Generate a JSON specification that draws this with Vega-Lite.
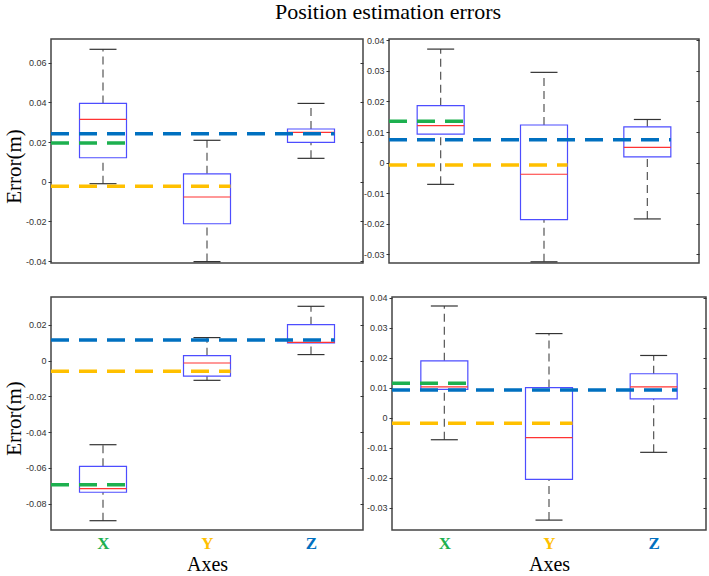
{
  "$schema": "https://vega.github.io/schema/vega-lite/v6.json",
  "padding": {"left": 2, "top": 1, "right": 2, "bottom": 0},
  "background": "white",
  "title": {"text": "Position estimation errors", "font": "Liberation Serif", "fontSize": 22, "fontWeight": "normal", "color": "#000000", "anchor": "middle", "dx": 33, "offset": 11},
  "datasets": {
    "stats": [
      {"panel": "TL", "axis": "X", "pos": 1, "min": -0.001, "q1": 0.0121, "median": 0.0315, "q3": 0.0395, "max": 0.0668, "mean": 0.0195},
      {"panel": "TL", "axis": "Y", "pos": 2, "min": -0.0403, "q1": -0.0212, "median": -0.0077, "q3": 0.004, "max": 0.0209, "mean": -0.0023},
      {"panel": "TL", "axis": "Z", "pos": 3, "min": 0.0118, "q1": 0.0199, "median": 0.0249, "q3": 0.0266, "max": 0.0395, "mean": 0.0242},
      {"panel": "TR", "axis": "X", "pos": 1, "min": -0.0071, "q1": 0.0093, "median": 0.0121, "q3": 0.0186, "max": 0.0371, "mean": 0.0135},
      {"panel": "TR", "axis": "Y", "pos": 2, "min": -0.0324, "q1": -0.0186, "median": -0.0038, "q3": 0.0123, "max": 0.0295, "mean": -0.0008},
      {"panel": "TR", "axis": "Z", "pos": 3, "min": -0.0184, "q1": 0.0019, "median": 0.005, "q3": 0.0117, "max": 0.0141, "mean": 0.0075},
      {"panel": "BL", "axis": "X", "pos": 1, "min": -0.0895, "q1": -0.0736, "median": -0.0716, "q3": -0.0591, "max": -0.047, "mean": -0.0694},
      {"panel": "BL", "axis": "Y", "pos": 2, "min": -0.011, "q1": -0.0087, "median": -0.0013, "q3": 0.0028, "max": 0.0129, "mean": -0.0059},
      {"panel": "BL", "axis": "Z", "pos": 3, "min": 0.0034, "q1": 0.01, "median": 0.0102, "q3": 0.0201, "max": 0.0304, "mean": 0.0116},
      {"panel": "BR", "axis": "X", "pos": 1, "min": -0.0074, "q1": 0.0094, "median": 0.0102, "q3": 0.0189, "max": 0.0372, "mean": 0.0114},
      {"panel": "BR", "axis": "Y", "pos": 2, "min": -0.0342, "q1": -0.0206, "median": -0.0067, "q3": 0.01, "max": 0.028, "mean": -0.0019},
      {"panel": "BR", "axis": "Z", "pos": 3, "min": -0.0116, "q1": 0.0062, "median": 0.0102, "q3": 0.0146, "max": 0.0207, "mean": 0.0092}
    ]
  },
  "vconcat": [
    {
      "align": "none",
      "spacing": -3,
      "resolve": {"scale": {"strokeDash": "independent"}},
      "hconcat": [
        {
          "width": 312, "height": 224,
          "data": {"name": "stats"},
          "transform": [{"filter": "datum.panel == 'TL'"}],
          "layer": [
            {"mark": {"type": "rule", "color": "#555555", "strokeWidth": 1.2, "strokeDash": [8, 5]},
             "encoding": {
               "x": {"field": "pos", "type": "quantitative", "scale": {"domain": [0.5, 3.5], "nice": false, "zero": false}, "axis": null},
               "y": {"field": "q3", "type": "quantitative", "scale": {"domain": [-0.041, 0.072], "nice": false, "zero": false},
                     "axis": {"orient": "left", "values": [-0.04, -0.02, 0, 0.02, 0.04, 0.06], "labelExpr": "replace(format(datum.value, '.2~f'), '−', '-')", "tickSize": 3, "grid": false, "domain": false, "title": "Error(m)", "titlePadding": 1, "titleY": 127}},
               "y2": {"field": "max"}}},
            {"mark": {"type": "rule", "color": "#555555", "strokeWidth": 1.2, "strokeDash": [8, 5]},
             "encoding": {
               "x": {"field": "pos", "type": "quantitative", "axis": null},
               "y": {"field": "min", "type": "quantitative", "axis": {"orient": "right", "values": [-0.04, -0.02, 0, 0.02, 0.04, 0.06], "labels": false, "tickSize": -3, "grid": false, "domain": false, "title": null}},
               "y2": {"field": "q1"}}},
            {"mark": {"type": "rule", "color": "#333333", "strokeWidth": 1.2, "xOffset": -13.5, "x2Offset": 13.5},
             "encoding": {"x": {"field": "pos", "type": "quantitative", "axis": null}, "x2": {"field": "pos"}, "y": {"field": "max", "type": "quantitative", "axis": null}}},
            {"mark": {"type": "rule", "color": "#333333", "strokeWidth": 1.2, "xOffset": -13.5, "x2Offset": 13.5},
             "encoding": {"x": {"field": "pos", "type": "quantitative", "axis": null}, "x2": {"field": "pos"}, "y": {"field": "min", "type": "quantitative", "axis": null}}},
            {"mark": {"type": "rect", "fill": "transparent", "stroke": "#4d4dff", "strokeWidth": 1.2, "xOffset": -23.5, "x2Offset": 23.5},
             "encoding": {"x": {"field": "pos", "type": "quantitative", "axis": null}, "x2": {"field": "pos"}, "y": {"field": "q1", "type": "quantitative", "axis": null}, "y2": {"field": "q3"}}},
            {"mark": {"type": "rule", "color": "#ff3333", "strokeWidth": 1.2, "xOffset": -23.5, "x2Offset": 23.5},
             "encoding": {"x": {"field": "pos", "type": "quantitative", "axis": null}, "x2": {"field": "pos"}, "y": {"field": "median", "type": "quantitative", "axis": null}}},
            {"mark": {"type": "rule", "strokeWidth": 3.5, "xOffset": 23.5},
             "encoding": {"x": {"field": "pos", "type": "quantitative", "axis": null}, "x2": {"datum": 0.5}, "y": {"field": "mean", "type": "quantitative", "axis": null},
               "color": {"field": "axis", "type": "nominal", "scale": {"domain": ["X", "Y", "Z"], "range": ["#1db04f", "#ffc000", "#0070c0"]}, "legend": null},
               "strokeDash": {"field": "axis", "type": "nominal", "scale": {"domain": ["X", "Y", "Z"], "range": [[0, 1.5, 18, 8.5], [11.5, 10, 6.5, 0], [3.5, 10, 14.5, 0]]}, "legend": null}}}
          ],
          "resolve": {"axis": {"y": "independent"}}
        },
        {
          "width": 310, "height": 224,
          "data": {"name": "stats"},
          "transform": [{"filter": "datum.panel == 'TR'"}],
          "layer": [
            {"mark": {"type": "rule", "color": "#555555", "strokeWidth": 1.2, "strokeDash": [8, 5]},
             "encoding": {
               "x": {"field": "pos", "type": "quantitative", "scale": {"domain": [0.5, 3.5], "nice": false, "zero": false}, "axis": null},
               "y": {"field": "q3", "type": "quantitative", "scale": {"domain": [-0.0328, 0.0404], "nice": false, "zero": false},
                     "axis": {"orient": "left", "values": [-0.03, -0.02, -0.01, 0, 0.01, 0.02, 0.03, 0.04], "labelExpr": "replace(format(datum.value, '.2~f'), '−', '-')", "tickSize": 3, "grid": false, "domain": false, "title": null}},
               "y2": {"field": "max"}}},
            {"mark": {"type": "rule", "color": "#555555", "strokeWidth": 1.2, "strokeDash": [8, 5]},
             "encoding": {
               "x": {"field": "pos", "type": "quantitative", "axis": null},
               "y": {"field": "min", "type": "quantitative", "axis": {"orient": "right", "values": [-0.03, -0.02, -0.01, 0, 0.01, 0.02, 0.03, 0.04], "labels": false, "tickSize": -3, "grid": false, "domain": false, "title": null}},
               "y2": {"field": "q1"}}},
            {"mark": {"type": "rule", "color": "#333333", "strokeWidth": 1.2, "xOffset": -13.5, "x2Offset": 13.5},
             "encoding": {"x": {"field": "pos", "type": "quantitative", "axis": null}, "x2": {"field": "pos"}, "y": {"field": "max", "type": "quantitative", "axis": null}}},
            {"mark": {"type": "rule", "color": "#333333", "strokeWidth": 1.2, "xOffset": -13.5, "x2Offset": 13.5},
             "encoding": {"x": {"field": "pos", "type": "quantitative", "axis": null}, "x2": {"field": "pos"}, "y": {"field": "min", "type": "quantitative", "axis": null}}},
            {"mark": {"type": "rect", "fill": "transparent", "stroke": "#4d4dff", "strokeWidth": 1.2, "xOffset": -23.5, "x2Offset": 23.5},
             "encoding": {"x": {"field": "pos", "type": "quantitative", "axis": null}, "x2": {"field": "pos"}, "y": {"field": "q1", "type": "quantitative", "axis": null}, "y2": {"field": "q3"}}},
            {"mark": {"type": "rule", "color": "#ff3333", "strokeWidth": 1.2, "xOffset": -23.5, "x2Offset": 23.5},
             "encoding": {"x": {"field": "pos", "type": "quantitative", "axis": null}, "x2": {"field": "pos"}, "y": {"field": "median", "type": "quantitative", "axis": null}}},
            {"mark": {"type": "rule", "strokeWidth": 3.5, "xOffset": 23.5},
             "encoding": {"x": {"field": "pos", "type": "quantitative", "axis": null}, "x2": {"datum": 0.5}, "y": {"field": "mean", "type": "quantitative", "axis": null},
               "color": {"field": "axis", "type": "nominal", "scale": {"domain": ["X", "Y", "Z"], "range": ["#1db04f", "#ffc000", "#0070c0"]}, "legend": null},
               "strokeDash": {"field": "axis", "type": "nominal", "scale": {"domain": ["X", "Y", "Z"], "range": [[0, 1.17, 18, 8.83], [10.5, 10, 7.5, 0], [1.83, 10, 16.17, 0]]}, "legend": null}}}
          ],
          "resolve": {"axis": {"y": "independent"}}
        }
      ]
    },
    {
      "align": "none",
      "spacing": 0,
      "resolve": {"scale": {"strokeDash": "independent"}},
      "hconcat": [
        {
          "width": 312, "height": 233,
          "data": {"name": "stats"},
          "transform": [{"filter": "datum.panel == 'BL'"}],
          "layer": [
            {"mark": {"type": "rule", "color": "#555555", "strokeWidth": 1.2, "strokeDash": [8, 5]},
             "encoding": {
               "x": {"field": "pos", "type": "quantitative", "scale": {"domain": [0.5, 3.5], "nice": false, "zero": false},
                     "axis": {"values": [1, 2, 3], "labelExpr": "datum.value == 1 ? 'X' : datum.value == 2 ? 'Y' : 'Z'", "ticks": false, "domain": false, "grid": false, "labelFont": "Liberation Serif", "labelFontSize": 17, "labelFontWeight": "bold", "labelPadding": 5, "labelFlush": false, "title": "Axes", "titleFontSize": 20, "titlePadding": 3,
                              "labelColor": {"condition": [{"test": "datum.value == 1", "value": "#1db04f"}, {"test": "datum.value == 2", "value": "#ffc000"}], "value": "#0070c0"}}},
               "y": {"field": "q3", "type": "quantitative", "scale": {"domain": [-0.0947, 0.0356], "nice": false, "zero": false},
                     "axis": {"orient": "left", "values": [-0.08, -0.06, -0.04, -0.02, 0, 0.02], "labelExpr": "replace(format(datum.value, '.2~f'), '−', '-')", "tickSize": 3, "grid": false, "domain": false, "title": "Error(m)", "titlePadding": 1, "titleY": 121}},
               "y2": {"field": "max"}}},
            {"mark": {"type": "rule", "color": "#555555", "strokeWidth": 1.2, "strokeDash": [8, 5]},
             "encoding": {
               "x": {"field": "pos", "type": "quantitative"},
               "y": {"field": "min", "type": "quantitative", "axis": {"orient": "right", "values": [-0.08, -0.06, -0.04, -0.02, 0, 0.02], "labels": false, "tickSize": -3, "grid": false, "domain": false, "title": null}},
               "y2": {"field": "q1"}}},
            {"mark": {"type": "rule", "color": "#333333", "strokeWidth": 1.2, "xOffset": -13.5, "x2Offset": 13.5},
             "encoding": {"x": {"field": "pos", "type": "quantitative"}, "x2": {"field": "pos"}, "y": {"field": "max", "type": "quantitative", "axis": null}}},
            {"mark": {"type": "rule", "color": "#333333", "strokeWidth": 1.2, "xOffset": -13.5, "x2Offset": 13.5},
             "encoding": {"x": {"field": "pos", "type": "quantitative"}, "x2": {"field": "pos"}, "y": {"field": "min", "type": "quantitative", "axis": null}}},
            {"mark": {"type": "rect", "fill": "transparent", "stroke": "#4d4dff", "strokeWidth": 1.2, "xOffset": -23.5, "x2Offset": 23.5},
             "encoding": {"x": {"field": "pos", "type": "quantitative"}, "x2": {"field": "pos"}, "y": {"field": "q1", "type": "quantitative", "axis": null}, "y2": {"field": "q3"}}},
            {"mark": {"type": "rule", "color": "#ff3333", "strokeWidth": 1.2, "xOffset": -23.5, "x2Offset": 23.5},
             "encoding": {"x": {"field": "pos", "type": "quantitative"}, "x2": {"field": "pos"}, "y": {"field": "median", "type": "quantitative", "axis": null}}},
            {"mark": {"type": "rule", "strokeWidth": 3.5, "xOffset": 23.5},
             "encoding": {"x": {"field": "pos", "type": "quantitative"}, "x2": {"datum": 0.5}, "y": {"field": "mean", "type": "quantitative", "axis": null},
               "color": {"field": "axis", "type": "nominal", "scale": {"domain": ["X", "Y", "Z"], "range": ["#1db04f", "#ffc000", "#0070c0"]}, "legend": null},
               "strokeDash": {"field": "axis", "type": "nominal", "scale": {"domain": ["X", "Y", "Z"], "range": [[0, 1.5, 18, 8.5], [11.5, 10, 6.5, 0], [3.5, 10, 14.5, 0]]}, "legend": null}}}
          ],
          "resolve": {"axis": {"y": "independent"}}
        },
        {
          "width": 314, "height": 233,
          "data": {"name": "stats"},
          "transform": [{"filter": "datum.panel == 'BR'"}],
          "layer": [
            {"mark": {"type": "rule", "color": "#555555", "strokeWidth": 1.2, "strokeDash": [8, 5]},
             "encoding": {
               "x": {"field": "pos", "type": "quantitative", "scale": {"domain": [0.5, 3.5], "nice": false, "zero": false},
                     "axis": {"values": [1, 2, 3], "labelExpr": "datum.value == 1 ? 'X' : datum.value == 2 ? 'Y' : 'Z'", "ticks": false, "domain": false, "grid": false, "labelFont": "Liberation Serif", "labelFontSize": 17, "labelFontWeight": "bold", "labelPadding": 5, "labelFlush": false, "title": "Axes", "titleFontSize": 20, "titlePadding": 3,
                              "labelColor": {"condition": [{"test": "datum.value == 1", "value": "#1db04f"}, {"test": "datum.value == 2", "value": "#ffc000"}], "value": "#0070c0"}}},
               "y": {"field": "q3", "type": "quantitative", "scale": {"domain": [-0.0375, 0.0402], "nice": false, "zero": false},
                     "axis": {"orient": "left", "values": [-0.03, -0.02, -0.01, 0, 0.01, 0.02, 0.03, 0.04], "labelExpr": "replace(format(datum.value, '.2~f'), '−', '-')", "tickSize": 3, "grid": false, "domain": false, "title": null}},
               "y2": {"field": "max"}}},
            {"mark": {"type": "rule", "color": "#555555", "strokeWidth": 1.2, "strokeDash": [8, 5]},
             "encoding": {
               "x": {"field": "pos", "type": "quantitative"},
               "y": {"field": "min", "type": "quantitative", "axis": {"orient": "right", "values": [-0.03, -0.02, -0.01, 0, 0.01, 0.02, 0.03, 0.04], "labels": false, "tickSize": -3, "grid": false, "domain": false, "title": null}},
               "y2": {"field": "q1"}}},
            {"mark": {"type": "rule", "color": "#333333", "strokeWidth": 1.2, "xOffset": -13.5, "x2Offset": 13.5},
             "encoding": {"x": {"field": "pos", "type": "quantitative"}, "x2": {"field": "pos"}, "y": {"field": "max", "type": "quantitative", "axis": null}}},
            {"mark": {"type": "rule", "color": "#333333", "strokeWidth": 1.2, "xOffset": -13.5, "x2Offset": 13.5},
             "encoding": {"x": {"field": "pos", "type": "quantitative"}, "x2": {"field": "pos"}, "y": {"field": "min", "type": "quantitative", "axis": null}}},
            {"mark": {"type": "rect", "fill": "transparent", "stroke": "#4d4dff", "strokeWidth": 1.2, "xOffset": -23.5, "x2Offset": 23.5},
             "encoding": {"x": {"field": "pos", "type": "quantitative"}, "x2": {"field": "pos"}, "y": {"field": "q1", "type": "quantitative", "axis": null}, "y2": {"field": "q3"}}},
            {"mark": {"type": "rule", "color": "#ff3333", "strokeWidth": 1.2, "xOffset": -23.5, "x2Offset": 23.5},
             "encoding": {"x": {"field": "pos", "type": "quantitative"}, "x2": {"field": "pos"}, "y": {"field": "median", "type": "quantitative", "axis": null}}},
            {"mark": {"type": "rule", "strokeWidth": 3.5, "xOffset": 23.5},
             "encoding": {"x": {"field": "pos", "type": "quantitative"}, "x2": {"datum": 0.5}, "y": {"field": "mean", "type": "quantitative", "axis": null},
               "color": {"field": "axis", "type": "nominal", "scale": {"domain": ["X", "Y", "Z"], "range": ["#1db04f", "#ffc000", "#0070c0"]}, "legend": null},
               "strokeDash": {"field": "axis", "type": "nominal", "scale": {"domain": ["X", "Y", "Z"], "range": [[0, 1.83, 18, 8.17], [12.5, 10, 5.5, 0], [5.17, 10, 12.83, 0]]}, "legend": null}}}
          ],
          "resolve": {"axis": {"y": "independent"}}
        }
      ]
    }
  ],
  "align": "none",
  "spacing": 25,
  "resolve": {"scale": {"strokeDash": "independent"}},
  "config": {
    "view": {"stroke": "#444444", "strokeWidth": 1.5},
    "axis": {"labelFont": "Liberation Sans", "labelFontSize": 9, "labelColor": "#333333", "tickColor": "#333333", "tickWidth": 1, "titleFont": "Liberation Serif", "titleFontSize": 21, "titleFontWeight": "normal", "titleColor": "#000000"}
  }
}
